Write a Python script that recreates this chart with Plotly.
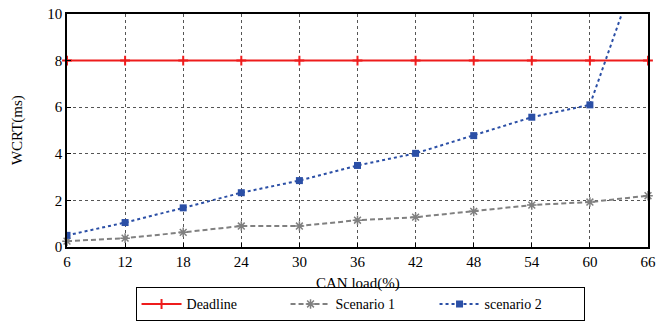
import plotly.graph_objects as go

load = [6, 12, 18, 24, 30, 36, 42, 48, 54, 60, 66]
deadline = [8, 8, 8, 8, 8, 8, 8, 8, 8, 8, 8]
scenario1 = [0.25, 0.38, 0.63, 0.9, 0.9, 1.15, 1.28, 1.53, 1.8, 1.93, 2.2]
scenario2 = [0.5, 1.05, 1.68, 2.33, 2.85, 3.5, 4.02, 4.78, 5.57, 6.1, 13.2]
x_ticks = [6, 12, 18, 24, 30, 36, 42, 48, 54, 60, 66]
y_ticks = [0, 2, 4, 6, 8, 10]

font = "Liberation Serif"

fig = go.Figure()
fig.add_trace(go.Scatter(
    x=load, y=deadline, name="Deadline", mode="lines+markers",
    line=dict(color="#ee1c1c", width=2),
    marker=dict(symbol="cross-thin-open", size=7, line=dict(color="#ee1c1c", width=2)),
    cliponaxis=False))
fig.add_trace(go.Scatter(
    x=load, y=scenario1, name="Scenario 1", mode="lines+markers",
    line=dict(color="#808080", width=2, dash="5px,3px"),
    marker=dict(symbol="asterisk-open", size=8, line=dict(color="#808080", width=1.5)),
    cliponaxis=False))
fig.add_trace(go.Scatter(
    x=load, y=scenario2, name="scenario 2", mode="lines+markers",
    line=dict(color="#2b4fa6", width=2, dash="dot"),
    marker=dict(symbol="square", size=7, color="#2b4fa6"),
    cliponaxis=True))

axis_common = dict(
    showline=True, linecolor="black", linewidth=1.5, mirror=True,
    showgrid=True, gridcolor="#555555", griddash="dot", gridwidth=1,
    ticks="inside", ticklen=4, tickcolor="black", zeroline=False,
    tickfont=dict(family=font, size=15, color="black"), automargin=False,
)

fig.update_layout(
    width=657, height=323,
    margin=dict(l=67, r=9, t=14, b=76, autoexpand=False),
    plot_bgcolor="white", paper_bgcolor="white",
    font=dict(family=font, size=15, color="black"),
    xaxis=dict(axis_common, range=[6, 66], tickvals=x_ticks),
    yaxis=dict(axis_common, range=[0, 10], tickvals=y_ticks),
    legend=dict(orientation="h", x=0.548, xref="container", xanchor="center",
                y=0.005, yref="container", yanchor="bottom",
                bordercolor="black", borderwidth=1, bgcolor="white",
                font=dict(family=font, size=14), itemwidth=40,
                entrywidth=94, entrywidthmode="pixels",
                tracegroupgap=0),
    showlegend=True,
    annotations=[
        dict(text="CAN load(%)", xref="paper", yref="paper", x=0.5, y=-0.11,
             xanchor="center", yanchor="top", showarrow=False,
             font=dict(family=font, size=15)),
        dict(text="WCRT(ms)", xref="paper", yref="paper", x=-0.085, y=0.5,
             xanchor="center", yanchor="middle", showarrow=False, textangle=-90,
             font=dict(family=font, size=15)),
    ],
)

fig.write_html("out.html", config={"displayModeBar": False},
               post_script="document.body.style.margin='0';")
